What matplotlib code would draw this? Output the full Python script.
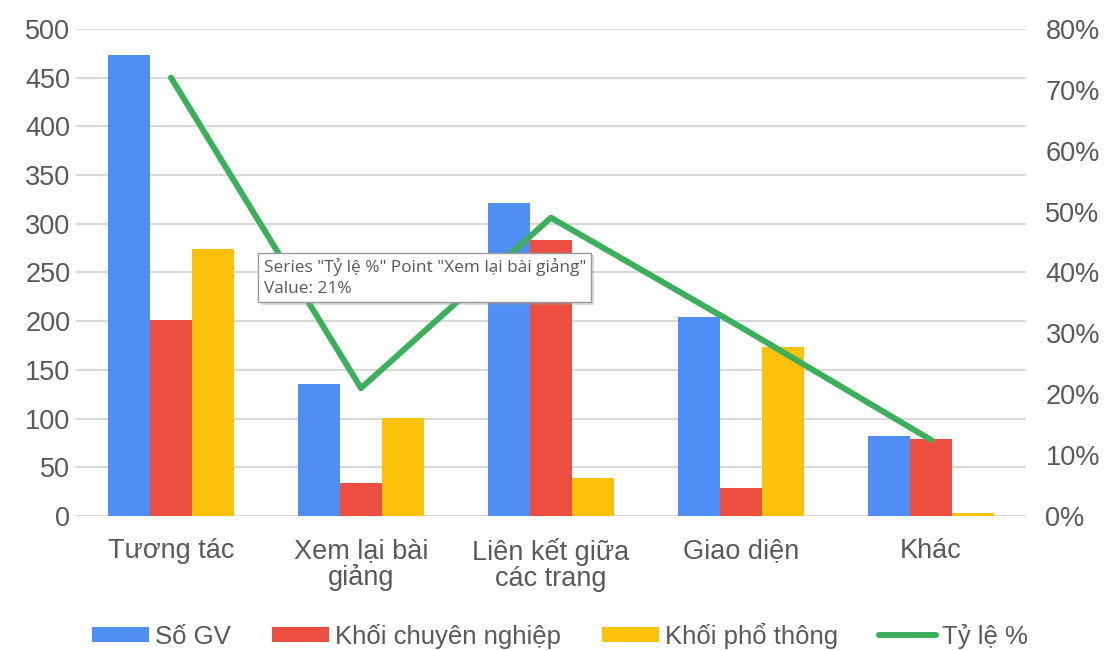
import numpy as np
import matplotlib
matplotlib.use("Agg")
import matplotlib.pyplot as plt
import matplotlib.patheffects as pe
from matplotlib.ticker import FuncFormatter

categories = ["Tương tác", "Xem lại bài\ngiảng", "Liên kết giữa\ncác trang", "Giao diện", "Khác"]
so_gv = [473, 136, 321, 204, 82]
khoi_chuyen_nghiep = [201, 34, 283, 29, 79]
khoi_pho_thong = [274, 101, 39, 174, 3]
ty_le = [72, 21, 49, 31, 12.5]

plt.rcParams["font.family"] = ["Liberation Sans", "DejaVu Sans"]
text_color = "#595959"

fig = plt.figure(figsize=(11.05, 6.5), dpi=100)
ax = fig.add_axes([0.0688, 0.2062, 0.8597, 0.7492])

x = np.arange(len(categories))
w = 0.221
b1 = ax.bar(x - w, so_gv, w, color="#4f8ef5", label="Số GV", zorder=2)
b2 = ax.bar(x, khoi_chuyen_nghiep, w, color="#ec4f40", label="Khối chuyên nghiệp", zorder=2)
b3 = ax.bar(x + w, khoi_pho_thong, w, color="#fcc20b", label="Khối phổ thông", zorder=2)

ax.set_xlim(-0.5, len(categories) - 0.5)
ax.set_ylim(0, 500)
ax.set_yticks(np.arange(0, 501, 50))
ax.set_xticks(x)
ax.set_xticklabels(categories, fontsize=19.5, color=text_color, linespacing=1.0)
ax.tick_params(axis="y", length=0, labelsize=19.5, labelcolor=text_color, pad=4)
ax.tick_params(axis="x", length=0, pad=16)
ax.grid(axis="y", color="#d9d9d9", linewidth=1.5, zorder=0)
ax.set_axisbelow(True)
for s in ax.spines.values():
    s.set_visible(False)

ax2 = ax.twinx()
ln, = ax2.plot(x, ty_le, color="#3caf5c", linewidth=4.3, solid_capstyle="round",
               label="Tỷ lệ %", zorder=3)
ax2.set_ylim(0, 80)
ax2.set_yticks(np.arange(0, 81, 10))
ax2.yaxis.set_major_formatter(FuncFormatter(lambda v, p: f"{v:.0f}%"))
ax2.tick_params(axis="y", length=0, labelsize=19.5, labelcolor=text_color, pad=14)
for s in ax2.spines.values():
    s.set_visible(False)

# tooltip box
tip = fig.text(0.2385, 0.573, 'Series "Tỷ lệ %" Point "Xem lại bài giảng"\nValue: 21%',
               fontsize=12.4, color="#595959", family=["Open Sans", "DejaVu Sans"],
               va="center", ha="left", linespacing=1.45, zorder=10,
               bbox=dict(boxstyle="square,pad=0.3", facecolor="white",
                         edgecolor="#9a9a9a", linewidth=1))
tip.get_bbox_patch().set_path_effects(
    [pe.withSimplePatchShadow(offset=(2, -2), shadow_rgbFace="#999999", alpha=0.35)])

fig.legend(handles=[b1, b2, b3, ln], loc="center", bbox_to_anchor=(0.507, 0.022),
           ncol=4, frameon=False, fontsize=18.5, labelcolor=text_color,
           handlelength=2.2, handleheight=0.55, handletextpad=0.25, columnspacing=1.6)

fig.savefig("out.png", dpi=100)
